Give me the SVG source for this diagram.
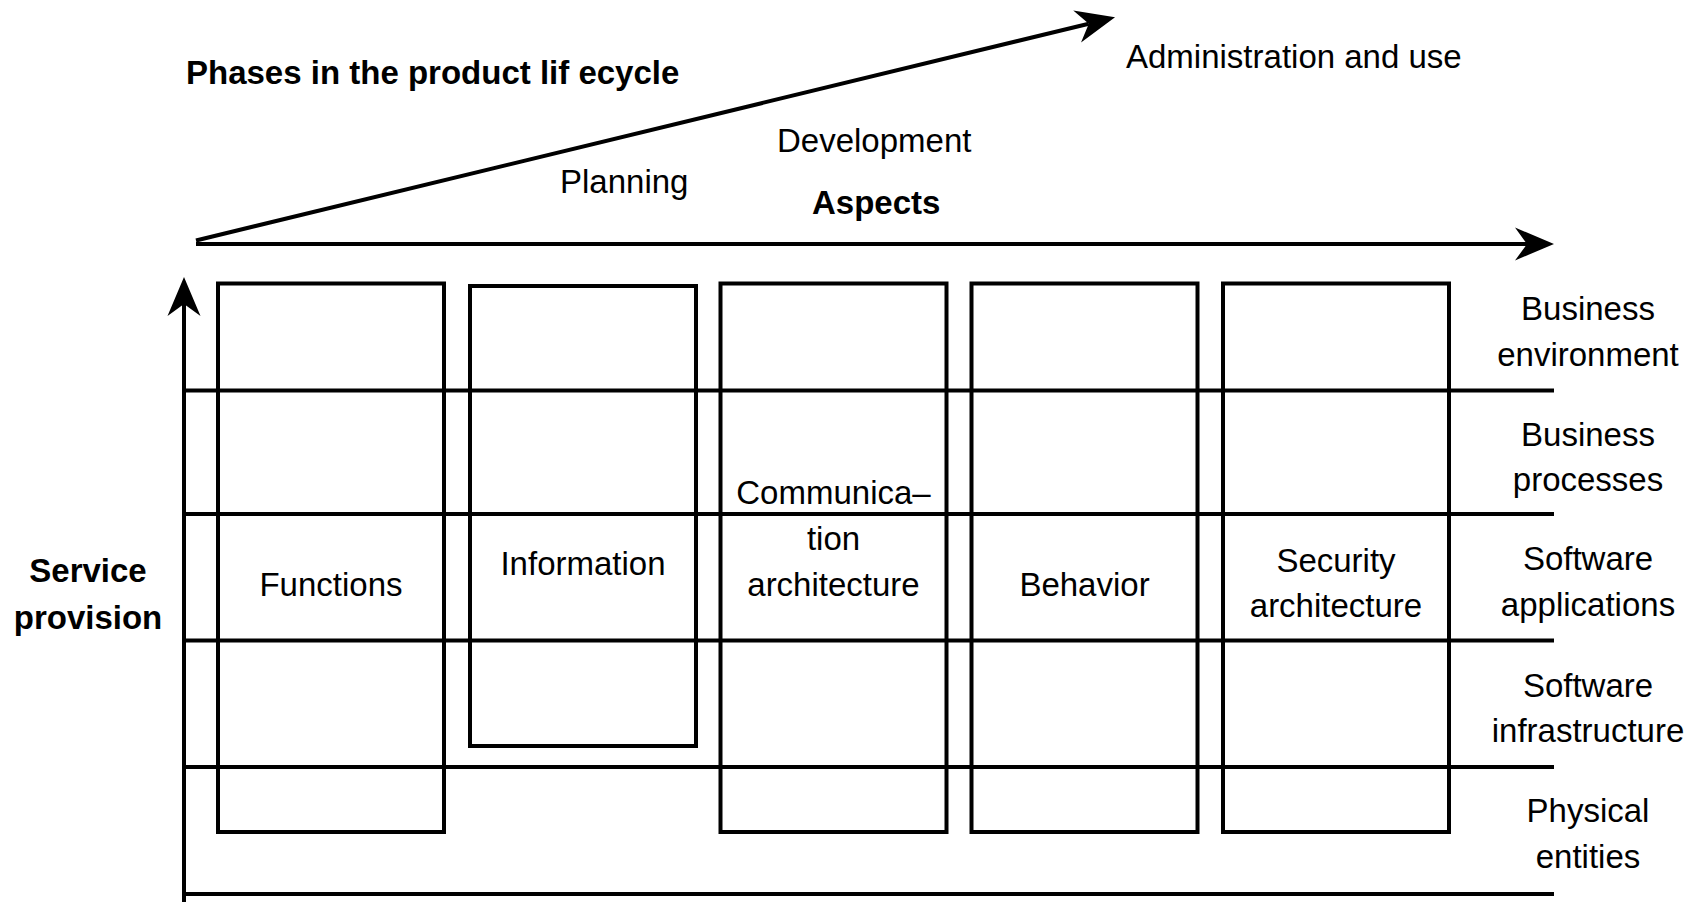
<svg xmlns="http://www.w3.org/2000/svg" width="1697" height="902" viewBox="0 0 1697 902">
<style>
.ln{stroke:#000;stroke-width:4;fill:none}
.box{stroke:#000;stroke-width:4;fill:none}
text{font-family:"Liberation Sans",Arial,Helvetica,sans-serif;font-size:33px;fill:#000}
.b{font-weight:bold}
.c{text-anchor:middle}
</style>
<defs>
<marker id="ah" markerUnits="userSpaceOnUse" markerWidth="60" markerHeight="40" viewBox="-14 -20 44 40" refX="0" refY="0" orient="auto" overflow="visible">
<path d="M27,0 L-12,-16.5 L0,0 L-12,16.5 Z" fill="#000"/>
</marker>
</defs>
<rect width="1697" height="902" fill="#fff"/>
<g id="connectors">
<line class="ln" x1="196" y1="240.5" x2="1088.8" y2="23.7" marker-end="url(#ah)"/>
<line class="ln" x1="196" y1="244" x2="1527" y2="244" marker-end="url(#ah)"/>
<line class="ln" x1="184" y1="902" x2="184" y2="304" marker-end="url(#ah)"/>
<line class="ln" x1="184" y1="390.5" x2="1554" y2="390.5"/>
<line class="ln" x1="184" y1="514" x2="1554" y2="514"/>
<line class="ln" x1="184" y1="640.5" x2="1554" y2="640.5"/>
<line class="ln" x1="184" y1="767" x2="1554" y2="767"/>
<line class="ln" x1="184" y1="894" x2="1554" y2="894"/>
</g>
<g id="titles">
<text class="b" x="186" y="84">Phases in the product lif ecycle</text>
<text x="1126" y="68">Administration and use</text>
<text x="777" y="152">Development</text>
<text x="560" y="193">Planning</text>
<text class="b" x="812" y="214">Aspects</text>
<text class="b c" x="88" y="582">Service</text>
<text class="b c" x="88" y="629">provision</text>
</g>
<g id="functions">
<rect class="box" x="218" y="283.5" width="226" height="548.5"/>
<text class="c" x="331" y="596">Functions</text>
</g>
<g id="information">
<rect class="box" x="470" y="286" width="226" height="460"/>
<text class="c" x="583" y="575">Information</text>
</g>
<g id="communication">
<rect class="box" x="720.5" y="283.5" width="226" height="548.5"/>
<text class="c" x="833.5" y="504">Communica–</text>
<text class="c" x="833.5" y="550">tion</text>
<text class="c" x="833.5" y="596">architecture</text>
</g>
<g id="behavior">
<rect class="box" x="971.5" y="283.5" width="226" height="548.5"/>
<text class="c" x="1084.5" y="596">Behavior</text>
</g>
<g id="security">
<rect class="box" x="1223" y="283.5" width="226" height="548.5"/>
<text class="c" x="1336" y="571.5">Security</text>
<text class="c" x="1336" y="617">architecture</text>
</g>
<g id="rows">
<text class="c" x="1588" y="320">Business</text>
<text class="c" x="1588" y="366">environment</text>
<text class="c" x="1588" y="446">Business</text>
<text class="c" x="1588" y="491">processes</text>
<text class="c" x="1588" y="570">Software</text>
<text class="c" x="1588" y="616">applications</text>
<text class="c" x="1588" y="697">Software</text>
<text class="c" x="1588" y="742">infrastructure</text>
<text class="c" x="1588" y="822">Physical</text>
<text class="c" x="1588" y="868">entities</text>
</g>
</svg>
